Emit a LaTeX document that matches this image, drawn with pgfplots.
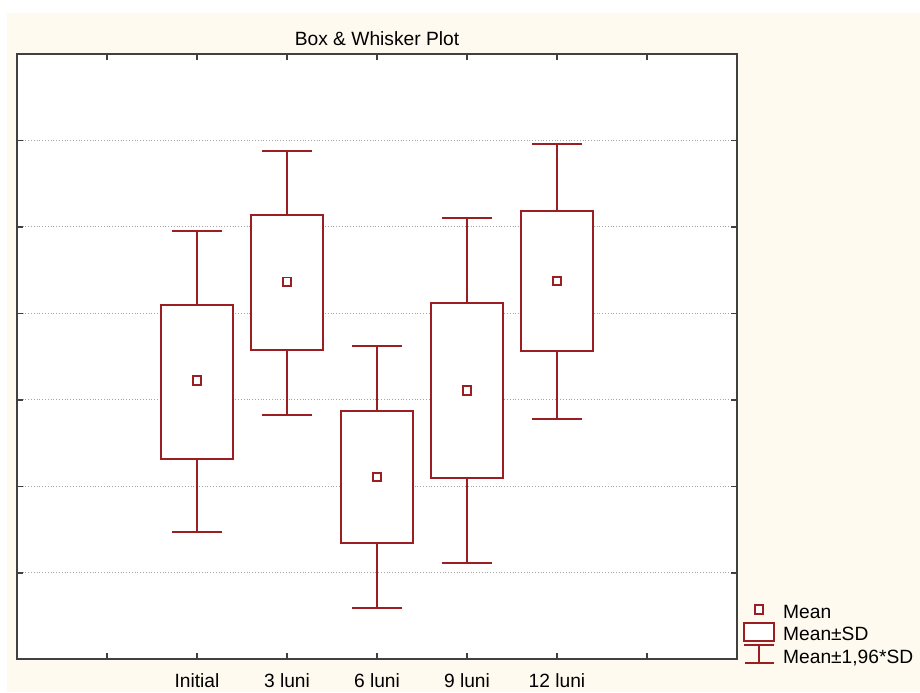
\documentclass[border=0pt]{standalone}
\usepackage{pgfplots}
\pgfplotsset{compat=1.18}
\usepgfplotslibrary{statistics}
\usepackage{fontspec}
\setmainfont{Liberation Sans}
\definecolor{cream}{RGB}{255,250,239}
\definecolor{boxred}{RGB}{155,30,35}
\definecolor{axisgray}{RGB}{64,64,64}
\begin{document}
\begin{tikzpicture}
\path[use as bounding box] (0,0) rectangle (460pt,346pt);
\fill[white] (0,0) rectangle (460pt,346pt);
\fill[cream] (3.5pt,0) rectangle (460pt,339.65pt);
\begin{axis}[
  at={(8.5pt,16.35pt)}, anchor=south west,
  scale only axis, width=360pt, height=302.65pt,
  xmin=0, xmax=8, ymin=0, ymax=7,
  xtick={1,...,7}, xticklabels={,Initial,3 luni,6 luni,9 luni,12 luni,},
  ytick={1,...,6}, yticklabels={},
  tick align=inside, tick pos=both, xticklabel pos=lower,
  major tick length=3pt,
  ymajorgrids, grid style={densely dotted, black!35, line width=0.5pt},
  axis line style={axisgray, line width=0.9pt},
  every tick/.style={axisgray, line width=0.8pt},
  axis background/.style={fill=white},
  font=\fontsize{9.6}{11.5}\selectfont,
  title={Box \& Whisker Plot},
  title style={at={(0.5,1)}, anchor=base, yshift=-1.5pt, font=\fontsize{9.6}{11.5}\selectfont},
  xticklabel style={anchor=base, yshift=-14pt, font=\fontsize{9.6}{11.5}\selectfont},
  legend style={at={(1.008,0.098)}, anchor=north west, draw=none, fill=none,
    font=\fontsize{9.6}{11.5}\selectfont, row sep=-1.25pt, inner sep=0pt,
    nodes={inner sep=1pt, text height=7pt, text depth=2pt},
    /tikz/every odd column/.append style={column sep=3pt}},
  legend cell align=left,
  boxplot/draw direction=y,
  boxplot/box extend=0.8,
  boxplot/whisker extend=0.56,
  boxplot/every box/.style={fill=white},
]
\addplot[boxred, line width=1pt, solid, forget plot, boxplot prepared={draw position=2, lower whisker=1.474, lower quartile=2.322, median=2.322, upper quartile=4.103, upper whisker=4.959}] coordinates {};
\addplot[boxred, line width=1pt, solid, forget plot, boxplot prepared={draw position=3, lower whisker=2.827, lower quartile=3.579, median=3.579, upper quartile=5.133, upper whisker=5.884}] coordinates {};
\addplot[boxred, line width=1pt, solid, forget plot, boxplot prepared={draw position=4, lower whisker=0.591, lower quartile=1.343, median=1.343, upper quartile=2.877, upper whisker=3.629}] coordinates {};
\addplot[boxred, line width=1pt, solid, forget plot, boxplot prepared={draw position=5, lower whisker=1.112, lower quartile=2.095, median=2.095, upper quartile=4.119, upper whisker=5.102}] coordinates {};
\addplot[boxred, line width=1pt, solid, forget plot, boxplot prepared={draw position=6, lower whisker=2.781, lower quartile=3.564, median=3.564, upper quartile=5.187, upper whisker=5.965}] coordinates {};
\addplot[only marks, mark=square*, mark size=2.1pt, mark options={fill=white, draw=boxred, line width=0.9pt, solid},
  legend image code/.code={\path[draw=none,fill=none] (0pt,-2.6pt) rectangle (15pt,6.6pt);
    \draw[boxred, line width=0.9pt, fill=white] (5.4pt,-0.1pt) rectangle (9.6pt,4.1pt);}]
  coordinates {(2,3.224) (3,4.366) (4,2.110) (5,3.108) (6,4.374)};
\addlegendentry{Mean}
\addlegendimage{legend image code/.code={\path[draw=none,fill=none] (0pt,-2.6pt) rectangle (15pt,6.6pt);
    \draw[boxred, line width=1pt, fill=white] (0pt,-2.4pt) rectangle (15pt,6.4pt);}}
\addlegendentry{Mean±SD}
\addlegendimage{legend image code/.code={\path[draw=none,fill=none] (0pt,-2.6pt) rectangle (15pt,6.6pt);
    \draw[boxred, line width=1pt] (0pt,6.5pt) -- (15pt,6.5pt) (7.5pt,6.5pt) -- (7.5pt,-2.5pt) (0.5pt,-2.5pt) -- (15pt,-2.5pt);}}
\addlegendentry{Mean±1,96*SD}
\end{axis}
\end{tikzpicture}
\end{document}
